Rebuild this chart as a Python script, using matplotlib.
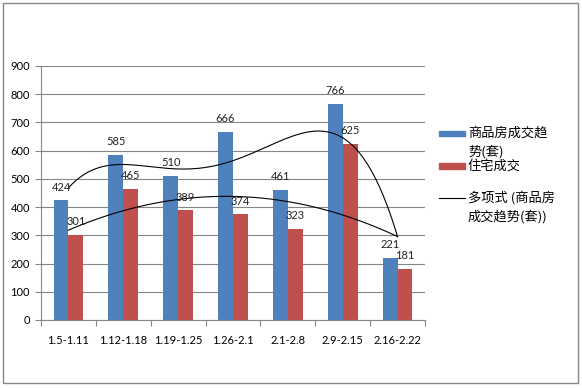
import numpy as np
import matplotlib
matplotlib.use("Agg")
import matplotlib.pyplot as plt
from matplotlib.patches import Rectangle
from matplotlib.lines import Line2D

plt.rcParams['font.family'] = ['Lato', 'Noto Sans CJK SC', 'DejaVu Sans']

weeks = ["1.5-1.11", "1.12-1.18", "1.19-1.25", "1.26-2.1", "2.1-2.8", "2.9-2.15", "2.16-2.22"]
all_homes = [424, 585, 510, 666, 461, 766, 221]
residential = [301, 465, 389, 374, 323, 625, 181]
all_homes_trend = [468, 552, 533, 567, 644, 646, 295]
yticks = [0, 100, 200, 300, 400, 500, 600, 700, 800, 900]

BLUE = "#4F81BD"
RED = "#C0504D"
GREY = "#868686"

W, H = 582, 388
fig = plt.figure(figsize=(W / 100, H / 100), dpi=100)

def px(x, y):
    return x / W, 1 - y / H

l, t = px(41, 66)
r, b = px(425, 320)
ax = fig.add_axes([l, b, r - l, t - b])

x = np.arange(len(weeks))
bw = 0.27
ax.bar(x - bw / 2, all_homes, bw, color=BLUE, zorder=2)
ax.bar(x + bw / 2, residential, bw, color=RED, zorder=2)

for xi, v in zip(x, all_homes):
    ax.annotate(str(v), (xi - bw / 2, v), xytext=(0, 9.5), textcoords="offset points",
                ha="center", va="center", fontsize=8, color="#222222", zorder=4)
for xi, v in zip(x, residential):
    ax.annotate(str(v), (xi + bw / 2, v), xytext=(0, 9.5), textcoords="offset points",
                ha="center", va="center", fontsize=8, color="#222222", zorder=4)

# polynomial trendlines
xs = np.linspace(0, len(weeks) - 1, 200)
p_blue = np.polyfit(x, all_homes_trend, 4)
p_red = np.polyfit(x, residential, 2)
ax.plot(xs, np.polyval(p_blue, xs), color="black", lw=0.8, zorder=3)
ax.plot(xs, np.polyval(p_red, xs), color="black", lw=0.8, zorder=3)

ax.set_xlim(-0.5, len(weeks) - 0.5)
ax.set_ylim(0, 900)
ax.set_yticks(yticks)
ax.yaxis.grid(True, color=GREY, lw=0.8, zorder=0)
ax.set_axisbelow(True)
ax.set_xticks(x)
ax.set_xticklabels(weeks, fontsize=8)
ax.set_xticks(np.arange(-0.5, len(weeks), 1), minor=True)
ax.tick_params(axis="x", which="major", length=0, pad=11)
ax.tick_params(axis="x", which="minor", length=4, color=GREY, width=0.8)
ax.tick_params(axis="y", length=4, color=GREY, width=0.8, labelsize=8, pad=4)
for s in ["top", "right"]:
    ax.spines[s].set_visible(False)
for s in ["left", "bottom"]:
    ax.spines[s].set_color(GREY)
    ax.spines[s].set_linewidth(0.8)

# legend
fs = 9.5
x0, y0 = px(439, 136)
x1, y1 = px(465, 131)
fig.add_artist(Rectangle((x0, y0), x1 - x0, y1 - y0, color=BLUE, transform=fig.transFigure))
x0, y0 = px(439, 169)
x1, y1 = px(465, 163)
fig.add_artist(Rectangle((x0, y0), x1 - x0, y1 - y0, color=RED, transform=fig.transFigure))
a, c = px(439, 198)
d, _ = px(465, 198)
fig.add_artist(Line2D([a, d], [c, c], color="black", lw=0.8, transform=fig.transFigure))

tx, _ = px(468, 0)
for label, yy in [("商品房成交趋", 133), ("势(套)", 152), ("住宅成交", 166),
                  ("多项式 (商品房", 198), ("成交趋势(套))", 217)]:
    fig.text(tx, px(0, yy)[1], label, fontsize=fs, va="center", ha="left",
             family=['Noto Sans CJK SC', 'DejaVu Sans'])

# outer chart border
bx0, by0 = px(3, 383)
bx1, by1 = px(578, 3)
fig.add_artist(Rectangle((bx0, by0), bx1 - bx0, by1 - by0, fill=False, ec=GREY, lw=1,
                         transform=fig.transFigure))

fig.savefig("out.png", dpi=100)
